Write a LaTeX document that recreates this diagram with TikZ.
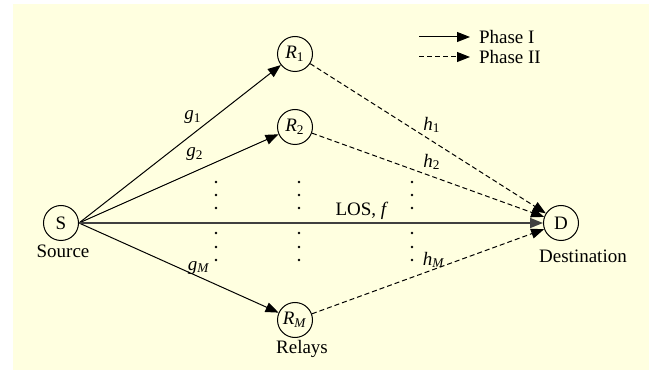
\documentclass[tikz,border=0pt]{standalone}
\usepackage{fontspec}
\setmainfont{Liberation Serif}
\usetikzlibrary{arrows.meta, positioning}
\definecolor{paper}{RGB}{255,255,224}
\newcommand{\chan}[2]{\textit{#1}\textsubscript{#2}}

\begin{document}
\begin{tikzpicture}[x=0.5pt, y=-0.5pt, font=\fontsize{9.5}{11}\selectfont,
  >={Triangle[length=6.5pt, width=5pt]},
  terminal/.style={circle, draw, line width=0.5pt, minimum size=17.5pt, inner sep=0pt},
  phaseone/.style={->, line width=0.5pt},
  phasetwo/.style={->, line width=0.5pt, dash pattern=on 2.5pt off 1.5pt}]

\useasboundingbox (0,0) rectangle (649,374);
\fill[paper] (13,4) rectangle (649,370);

% Noeuds
\node[terminal] (S) at (61,223) {S};
\node[terminal] (R1) at (295,54) {\chan{R}{1}};
\node[terminal] (R2) at (295,127) {\chan{R}{2}};
\node[terminal] (RM) at (295,320) {\chan{R}{\textit{M}}};
\node[terminal] (D) at (561,223) {D};
\node (src) at (63,251) {Source};
\node (rly) at (302,349) {Relays};
\node (dst) at (583,256) {Destination};

% Phase I
\draw[phaseone] (S.east) -- (R1);
\draw[phaseone] (S.east) -- (R2);
\draw[phaseone] (S.east) -- (RM);
\draw[->, line width=0.8pt, black!75] (S.east) -- (D.west);

% Phase II
\draw[phasetwo] (R1) -- (D);
\draw[phasetwo] (R2) -- (D);
\draw[phasetwo] (RM) -- (D);

% Gains
\node (g1) at (193,117) {\chan{g}{1}};
\node (g2) at (195,154) {\chan{g}{2}};
\node (gM) at (199,268) {\chan{g}{\textit{M}}};
\node (h1) at (432,125) {\chan{h}{1}};
\node (h2) at (432,162) {\chan{h}{2}};
\node (hM) at (434,260) {\chan{h}{\textit{M}}};
\node (los) at (362,211) {LOS, \textit{f}};

% Points
\foreach \x in {216, 299, 412}
  \foreach \y in {182, 195, 208, 233, 247, 260}
    \fill (\x,\y) circle (0.65pt);

% Légende
\coordinate (l1a) at (419,37);
\coordinate (l1b) at (470,37);
\coordinate (l2a) at (419,57);
\coordinate (l2b) at (470,57);
\draw[phaseone] (l1a) -- (l1b);
\draw[phasetwo] (l2a) -- (l2b);
\node[right=1pt of l1b] (p1) {Phase I};
\node[right=1pt of l2b] (p2) {Phase II};

\end{tikzpicture}
\end{document}
